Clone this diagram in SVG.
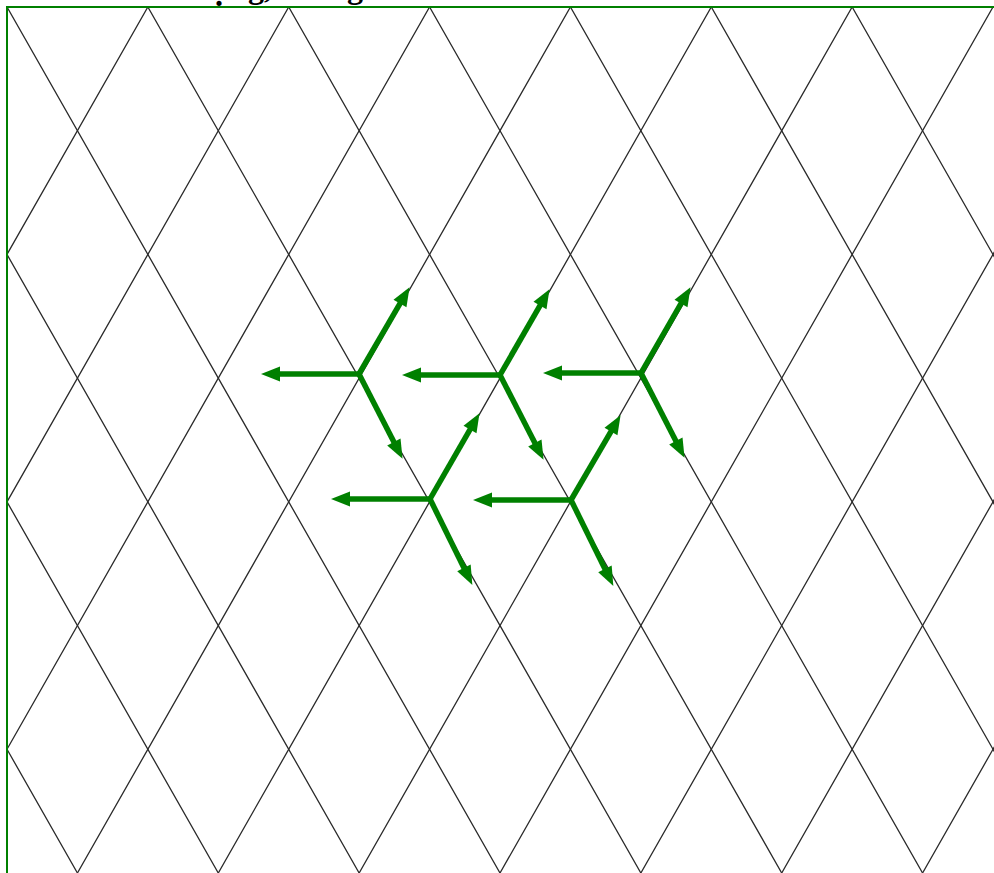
<svg xmlns="http://www.w3.org/2000/svg" width="994" height="873" viewBox="0 0 994 873">
<style>
.lat{stroke:#2a2a2a;stroke-width:1.3;fill:none}
.arr{stroke:#008000;stroke-width:5.5;fill:none;marker-end:url(#ah)}
.frame{stroke:#008000;stroke-width:2;fill:none}
.cap{font-family:"Liberation Serif",serif;font-weight:bold;font-size:32px;fill:#000}
</style>
<defs>
<clipPath id="clip"><rect x="7" y="7" width="987" height="866"/></clipPath>
<marker id="ah" markerUnits="userSpaceOnUse" markerWidth="22" markerHeight="18" refX="6" refY="7.5" orient="auto" overflow="visible">
<path d="M0,0 L19,7.5 L0,15 z" fill="#008000"/>
</marker>
</defs>
<rect width="994" height="873" fill="#fff"/>
<text class="cap"><tspan x="215" y="6">.</tspan><tspan x="248" y="-2">g,</tspan><tspan x="347" y="-2">g</tspan></text>
<rect x="7" y="7" width="987" height="870" fill="#fff"/>
<g id="lattice" clip-path="url(#clip)">
<path class="lat" d="M-415.57,7 L77.43,873 M-274.71,7 L218.29,873 M-133.86,7 L359.14,873 M7,7 L500,873 M147.86,7 L640.86,873 M288.71,7 L781.71,873 M429.57,7 L922.57,873 M570.43,7 L1063.43,873 M711.29,7 L1204.29,873 M852.14,7 L1345.14,873"/>
<path class="lat" d="M147.86,7 L-345.14,873 M288.71,7 L-204.29,873 M429.57,7 L-63.43,873 M570.43,7 L77.43,873 M711.29,7 L218.29,873 M852.14,7 L359.14,873 M993,7 L500,873 M1133.86,7 L640.86,873 M1274.71,7 L781.71,873 M1415.57,7 L922.57,873 M1556.43,7 L1063.43,873"/>
</g>
<rect class="frame" x="7" y="7" width="990" height="875"/>
<g id="connectors">
<g id="star1">
<path class="arr" d="M359,374 L274,374"/>
<path class="arr" d="M359,374 L403,298.4"/>
<path class="arr" d="M359,374 L396.6,447.3"/>
</g>
<g id="star2">
<path class="arr" d="M500,375 L415,375"/>
<path class="arr" d="M500,375 L543,300.4"/>
<path class="arr" d="M500,375 L537.6,448.3"/>
</g>
<g id="star3">
<path class="arr" d="M641,373 L556,373"/>
<path class="arr" d="M641,373 L684,298.4"/>
<path class="arr" d="M641,373 L678.6,446.3"/>
</g>
<g id="star4">
<path class="arr" d="M430,499 L344,499"/>
<path class="arr" d="M430,499 L473,424.4"/>
<path class="arr" d="M430,499 L466.6,573.3"/>
</g>
<g id="star5">
<path class="arr" d="M571,500 L486,500"/>
<path class="arr" d="M571,500 L614,426.4"/>
<path class="arr" d="M571,500 L607.6,574.3"/>
</g>
</g>
</svg>
